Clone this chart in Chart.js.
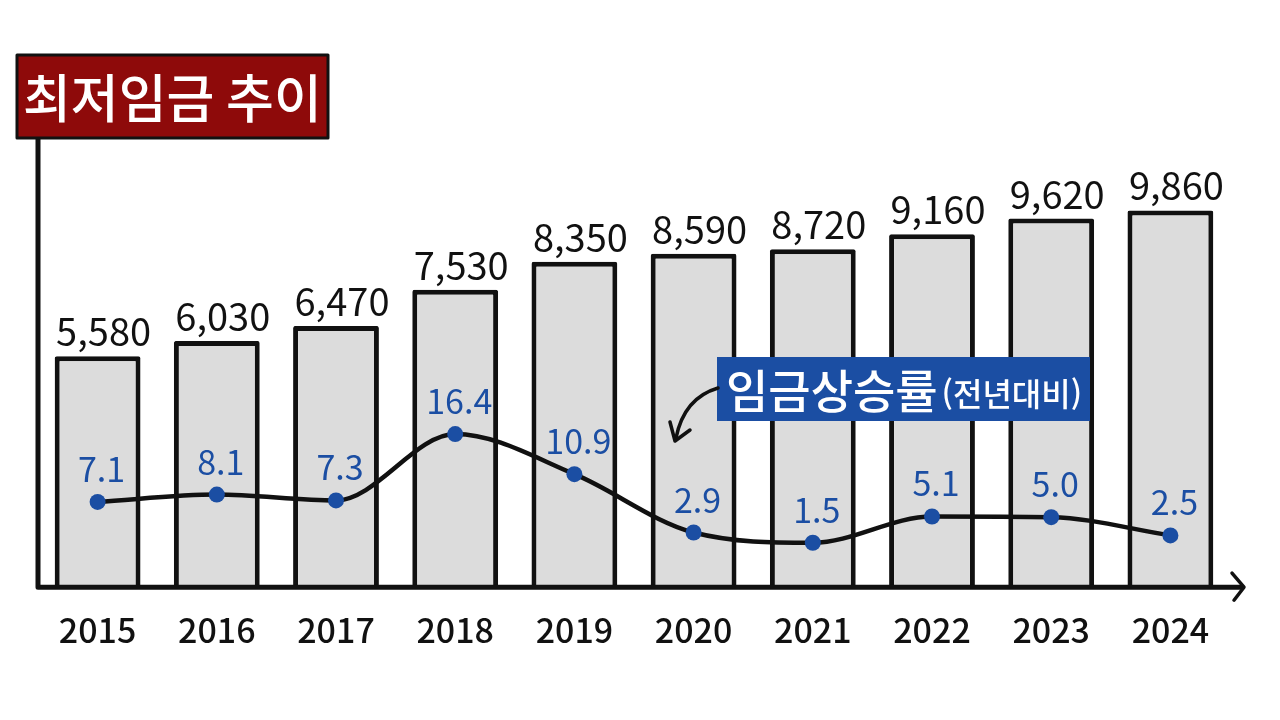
<!DOCTYPE html>
<html lang="ko">
<head>
<meta charset="utf-8">
<title>최저임금 추이</title>
<script src="https://cdn.jsdelivr.net/npm/chart.js@4.4.1/dist/chart.umd.min.js"></script>
<style>
  html, body { margin: 0; padding: 0; background: #ffffff; }
  #wrap { width: 1280px; height: 720px; position: relative; }
</style>
</head>
<body>
<div id="wrap"><canvas id="wage-chart" width="1280" height="720"></canvas></div>
<script>
// Data
const years = ["2015", "2016", "2017", "2018", "2019", "2020", "2021", "2022", "2023", "2024"];
const minimumWage = [5580, 6030, 6470, 7530, 8350, 8590, 8720, 9160, 9620, 9860];
const wageGrowth = [7.1, 8.1, 7.3, 16.4, 10.9, 2.9, 1.5, 5.1, 5.0, 2.5];

const chartTitle = "최저임금 추이";
const growthTitle = "임금상승률";
const growthNote = "(전년대비)";

const FONT = "'Noto Sans CJK KR', 'Noto Sans', sans-serif";
const BLUE = "#1b4ea3";
const RED = "#8e0a0a";
const WAGE_MIN = -1200;

// Axis lines, value labels and the two boxed titles
const decorPlugin = {
  id: "decor",
  afterDatasetsDraw(chart) {
    const ctx = chart.ctx;
    const area = chart.chartArea;

    ctx.save();
    // axes
    ctx.strokeStyle = "#111";
    ctx.lineWidth = 5;
    ctx.lineCap = "round";
    ctx.lineJoin = "round";
    ctx.beginPath();
    ctx.moveTo(area.left, area.top);
    ctx.lineTo(area.left, area.bottom);
    ctx.lineTo(area.right + 12, area.bottom);
    ctx.stroke();
    ctx.lineWidth = 3.5;
    ctx.beginPath();
    ctx.moveTo(area.right + 2, area.bottom - 14);
    ctx.lineTo(area.right + 14, area.bottom);
    ctx.lineTo(area.right + 4, area.bottom + 13);
    ctx.stroke();

    // bar value labels
    const barMeta = chart.getDatasetMeta(0);
    ctx.fillStyle = "#111";
    ctx.font = "38px " + FONT;
    ctx.textAlign = "center";
    ctx.textBaseline = "alphabetic";
    barMeta.data.forEach((bar, i) => {
      ctx.fillText(minimumWage[i].toLocaleString("en-US"), bar.x + 6, bar.y - 10);
    });

    // line value labels
    const lineMeta = chart.getDatasetMeta(1);
    ctx.fillStyle = BLUE;
    ctx.font = "34px " + FONT;
    lineMeta.data.forEach((pt, i) => {
      ctx.fillText(wageGrowth[i].toFixed(1), pt.x + 4, pt.y - 20);
    });

    // title box
    ctx.fillStyle = RED;
    ctx.fillRect(17, 55, 311, 83);
    ctx.strokeStyle = "#111";
    ctx.lineWidth = 3;
    ctx.strokeRect(17, 55, 311, 83);
    ctx.fillStyle = "#fff";
    ctx.font = "500 52px " + FONT;
    ctx.textAlign = "left";
    ctx.textBaseline = "middle";
    ctx.fillText(chartTitle, 23, 98);

    // growth legend box
    ctx.fillStyle = BLUE;
    ctx.fillRect(717, 357, 373, 64);
    ctx.fillStyle = "#fff";
    ctx.font = "500 46px " + FONT;
    ctx.fillText(growthTitle, 726, 391);
    const w = ctx.measureText(growthTitle).width;
    ctx.font = "500 32px " + FONT;
    ctx.fillText(growthNote, 726 + w + 4, 394);

    // arrow pointing at the line
    ctx.strokeStyle = "#111";
    ctx.lineWidth = 3.5;
    ctx.beginPath();
    ctx.moveTo(718, 388);
    ctx.quadraticCurveTo(684, 398, 676, 438);
    ctx.stroke();
    ctx.beginPath();
    ctx.moveTo(670, 422);
    ctx.lineTo(675, 441);
    ctx.lineTo(690, 430);
    ctx.stroke();
    ctx.restore();
  }
};

function createWageChart() {
  const ctx = document.getElementById("wage-chart").getContext("2d");

  return new Chart(ctx, {
    data: {
      labels: years,
      datasets: [
        {
          type: "bar",
          label: "최저임금",
          data: minimumWage,
          yAxisID: "y",
          base: WAGE_MIN,
          backgroundColor: "#dcdcdc",
          borderColor: "#111",
          borderWidth: 5,
          borderSkipped: "bottom",
          borderRadius: 2,
          categoryPercentage: 1,
          barPercentage: 0.72,
          order: 2,
        },
        {
          type: "line",
          label: growthTitle,
          data: wageGrowth,
          yAxisID: "y1",
          borderColor: "#111",
          borderWidth: 4.5,
          cubicInterpolationMode: "monotone",
          pointRadius: 8,
          pointBackgroundColor: BLUE,
          pointBorderColor: BLUE,
          pointBorderWidth: 0,
          order: 1,
        },
      ],
    },
    options: {
      responsive: false,
      animation: false,
      layout: { padding: { left: 38, right: 50, top: 130, bottom: 48 } },
      plugins: {
        legend: { display: false },
        tooltip: { enabled: false },
      },
      scales: {
        x: {
          grid: { display: false, drawTicks: false },
          border: { display: false },
          ticks: {
            color: "#111",
            padding: 22,
            font: { family: FONT, size: 34, weight: "500" },
          },
        },
        y: { display: false, min: WAGE_MIN, max: 12220 },
        y1: { display: false, position: "right", min: -4.6, max: 58.1 },
      },
    },
    plugins: [decorPlugin],
  });
}

const wageChart = createWageChart();
</script>
</body>
</html>
